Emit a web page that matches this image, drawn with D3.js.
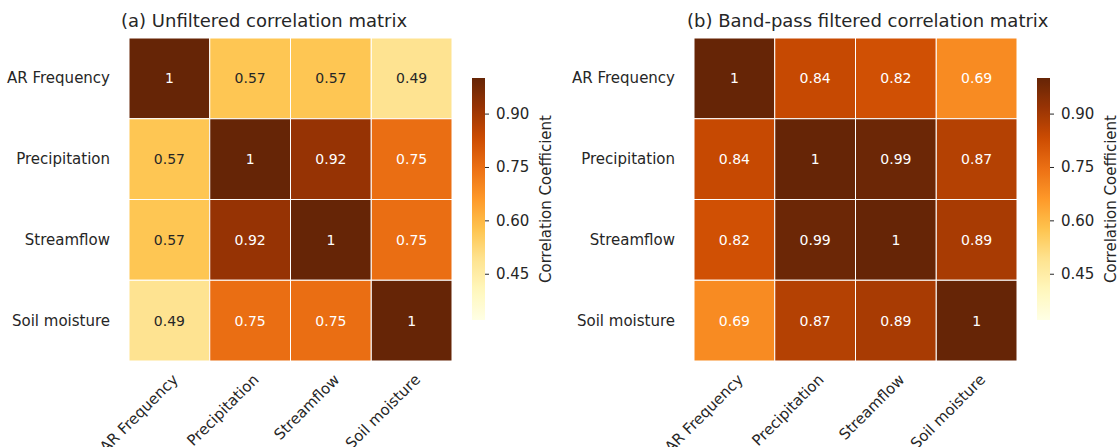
<!DOCTYPE html>
<html>
<head>
<meta charset="utf-8">
<script src="https://cdn.jsdelivr.net/npm/d3@7"></script>
<style>
  body { margin: 0; background: #fff; }
  text { font-family: "DejaVu Sans", sans-serif; fill: #262626; }
</style>
</head>
<body>
<script>
// variables, in matrix order
var labels = ["AR Frequency", "Precipitation", "Streamflow", "Soil moisture"];

var unfiltered = [
  [1, 0.57, 0.57, 0.49],
  [0.57, 1, 0.92, 0.75],
  [0.57, 0.92, 1, 0.75],
  [0.49, 0.75, 0.75, 1]
];

var bandpass = [
  [1, 0.84, 0.82, 0.69],
  [0.84, 1, 0.99, 0.87],
  [0.82, 0.99, 1, 0.89],
  [0.69, 0.87, 0.89, 1]
];

var titles = ["(a) Unfiltered correlation matrix", "(b) Band-pass filtered correlation matrix"];
var cbTicks = [0.45, 0.60, 0.75, 0.90];
var vmin = 0.32, vmax = 1.0;

// matplotlib YlOrBr, linear between the 9 colours
var ylorbr = ["#ffffe5", "#fff7bc", "#fee391", "#fec44f", "#fe9929", "#ec7014", "#cc4c02", "#993404", "#662506"];
var color = d3.scaleLinear()
  .domain(ylorbr.map(function(d, i) { return vmin + (vmax - vmin) * i / (ylorbr.length - 1) }))
  .range(ylorbr)
  .interpolate(d3.interpolateRgb)
  .clamp(true);

function luminance(c) {
  var rgb = d3.rgb(c);
  var lin = [rgb.r, rgb.g, rgb.b].map(function(v) {
    v = v / 255;
    return v <= 0.03928 ? v / 12.92 : Math.pow((v + 0.055) / 1.055, 2.4);
  });
  return 0.2126 * lin[0] + 0.7152 * lin[1] + 0.0722 * lin[2];
}

var w = 1117, h = 447;
var svg = d3.select("body").append("svg")
  .attr("width", w).attr("height", h);

var fmt = function(v) { return v === 1 ? "1" : v.toFixed(2) };

function drawPanel(idx, left, titleX, matrix) {
  var size = 323, top = 38;
  var g = svg.append("g");

  var x = d3.scaleBand().domain(labels).range([left, left + size]);
  var y = d3.scaleBand().domain(labels).range([top, top + size]);

  var cells = [];
  matrix.forEach(function(row, i) {
    row.forEach(function(v, j) { cells.push({row: labels[i], col: labels[j], v: v}) });
  });

  g.selectAll("rect.cell").data(cells).enter().append("rect")
    .attr("class", "cell")
    .attr("x", function(d) { return x(d.col) })
    .attr("y", function(d) { return y(d.row) })
    .attr("width", x.bandwidth())
    .attr("height", y.bandwidth())
    .attr("fill", function(d) { return color(d.v) })
    .attr("stroke", "#fff")
    .attr("stroke-width", 1);

  g.selectAll("text.annot").data(cells).enter().append("text")
    .attr("class", "annot")
    .attr("x", function(d) { return x(d.col) + x.bandwidth() / 2 })
    .attr("y", function(d) { return y(d.row) + y.bandwidth() / 2 })
    .attr("text-anchor", "middle")
    .attr("dominant-baseline", "central")
    .style("font-size", "14px")
    .style("fill", function(d) { return luminance(color(d.v)) > 0.408 ? "#262626" : "#fff" })
    .text(function(d) { return fmt(d.v) });

  // row labels
  g.selectAll("text.ylab").data(labels).enter().append("text")
    .attr("class", "ylab")
    .attr("x", left - 19)
    .attr("y", function(d) { return y(d) + y.bandwidth() / 2 })
    .attr("text-anchor", "end")
    .attr("dominant-baseline", "central")
    .style("font-size", "15px")
    .text(function(d) { return d });

  // column labels, rotated
  g.selectAll("text.xlab").data(labels).enter().append("text")
    .attr("class", "xlab")
    .attr("transform", function(d) {
      return "translate(" + (x(d) + x.bandwidth() / 2 + 6) + "," + (top + size + 16) + ") rotate(-45)";
    })
    .attr("text-anchor", "end")
    .attr("dominant-baseline", "central")
    .style("font-size", "15px")
    .text(function(d) { return d });

  g.append("text")
    .attr("x", titleX).attr("y", 27)
    .style("font-size", "18px")
    .text(titles[idx]);

  // colorbar
  var cbLeft = left + size + 20, cbW = 13, cbTop = 78, cbBot = 320;
  var cy = d3.scaleLinear().domain([vmin, vmax]).range([cbBot, cbTop]);
  var gradId = "grad" + idx;
  var grad = svg.append("defs").append("linearGradient")
    .attr("id", gradId)
    .attr("x1", 0).attr("y1", 1).attr("x2", 0).attr("y2", 0);
  grad.selectAll("stop").data(d3.range(0, 1.0001, 0.02)).enter().append("stop")
    .attr("offset", function(t) { return t })
    .attr("stop-color", function(t) { return color(vmin + t * (vmax - vmin)) });
  g.append("rect")
    .attr("x", cbLeft).attr("y", cbTop)
    .attr("width", cbW).attr("height", cbBot - cbTop)
    .attr("fill", "url(#" + gradId + ")");

  var axis = d3.axisRight(cy).tickValues(cbTicks).tickFormat(d3.format(".2f"))
    .tickSize(4).tickPadding(7);
  var ag = g.append("g")
    .attr("transform", "translate(" + (cbLeft + cbW) + ",0)")
    .call(axis);
  ag.select(".domain").remove();
  ag.selectAll("line").attr("stroke", "#262626").attr("stroke-width", 1);
  ag.selectAll("text")
    .style("font-size", "15px")
    .style("font-family", "DejaVu Sans, sans-serif")
    .attr("fill", "#262626");

  g.append("text")
    .attr("transform", "translate(" + (cbLeft + 79) + "," + ((cbTop + cbBot) / 2) + ") rotate(-90)")
    .attr("text-anchor", "middle")
    .style("font-size", "15px")
    .text("Correlation Coefficient");
}

drawPanel(0, 129, 121, unfiltered);
drawPanel(1, 694, 687, bandpass);
</script>
</body>
</html>
